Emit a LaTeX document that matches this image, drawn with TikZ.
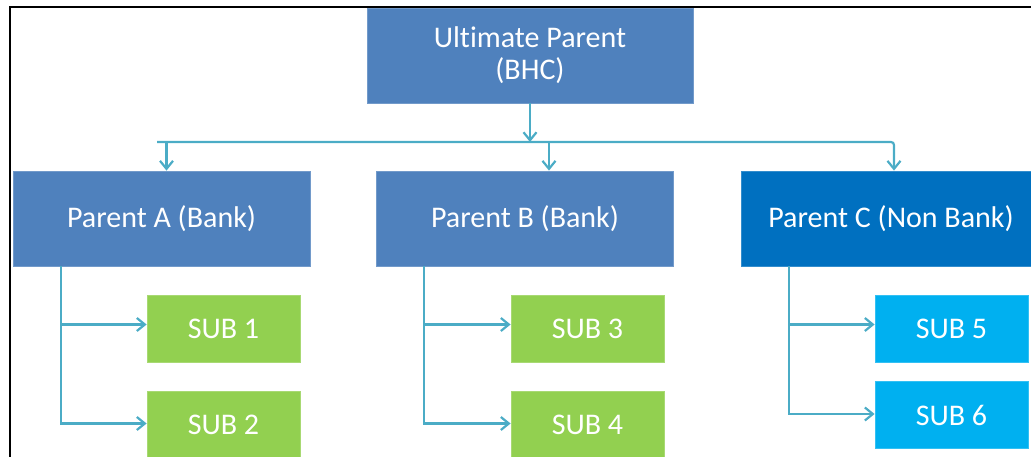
\documentclass[tikz,border=0pt]{standalone}
\usepackage{fontspec}
\setmainfont{Carlito}[Ligatures=NoCommon]
\usetikzlibrary{arrows.meta}
\definecolor{bankblue}{HTML}{4F81BD}
\definecolor{nonbank}{HTML}{0070C0}
\definecolor{subgreen}{HTML}{92D050}
\definecolor{subcyan}{HTML}{00B0F0}
\definecolor{linkcol}{HTML}{4BACC6}

\begin{document}
\begin{tikzpicture}[x=1pt,y=-1pt,
	box/.style={fill=#1,draw=#1!80!white,line width=0.8pt,text=white,
		font=\fontsize{30}{32}\selectfont,inner sep=0pt,align=center},
	parentbox/.style={box=#1,minimum width=297pt,minimum height=95pt},
	subbox/.style={box=#1,minimum width=153pt,minimum height=67pt},
	link/.style={draw=linkcol,line width=2.2pt,-{Straight Barb[length=8pt,width=13pt]}}]
\useasboundingbox (0,0) rectangle (1031,457);
\draw[line width=2pt] (10,457) -- (10,7) -- (1031,7);

\node[parentbox=bankblue,minimum width=326pt] (ult) at (530,55.5) {Ultimate Parent\\(BHC)};
\node[parentbox=bankblue] (pa) at (161.5,218.5) {Parent A (Bank)};
\node[parentbox=bankblue] (pb) at (525,218.5) {Parent B (Bank)};
\node[parentbox=nonbank,minimum width=300pt] (pc) at (891,218.5) {Parent C (Non Bank)};

\node[subbox=subgreen] (s1) at (223.5,328.5) {SUB 1};
\node[subbox=subgreen] (s2) at (223.5,424.5) {SUB 2};
\node[subbox=subgreen] (s3) at (587.5,328.5) {SUB 3};
\node[subbox=subgreen] (s4) at (587.5,424.5) {SUB 4};
\node[subbox=subcyan] (s5) at (951.5,328.5) {SUB 5};
\node[subbox=subcyan] (s6) at (951.5,415) {SUB 6};

\coordinate (busl) at (157,142);
\coordinate (busr) at (894,142);
\draw[link] (ult.south) -- (ult.south |- busl);
\draw[link,rounded corners=3pt] (busl) -- (busr) -- (busr |- pc.north);
\draw[link] ([xshift=5pt]pa.north |- busl) -- ([xshift=5pt]pa.north);
\draw[link] ([xshift=24pt]pb.north |- busl) -- ([xshift=24pt]pb.north);

\foreach \p/\a/\b in {pa/s1/s2,pb/s3/s4,pc/s5/s6}{
	\draw[link] ([xshift=48pt]\p.south west) |- ([yshift=4pt]\a.west);
	\draw[link] ([xshift=48pt]\p.south west) |- ([yshift=1pt]\b.west);
}
\end{tikzpicture}
\end{document}
